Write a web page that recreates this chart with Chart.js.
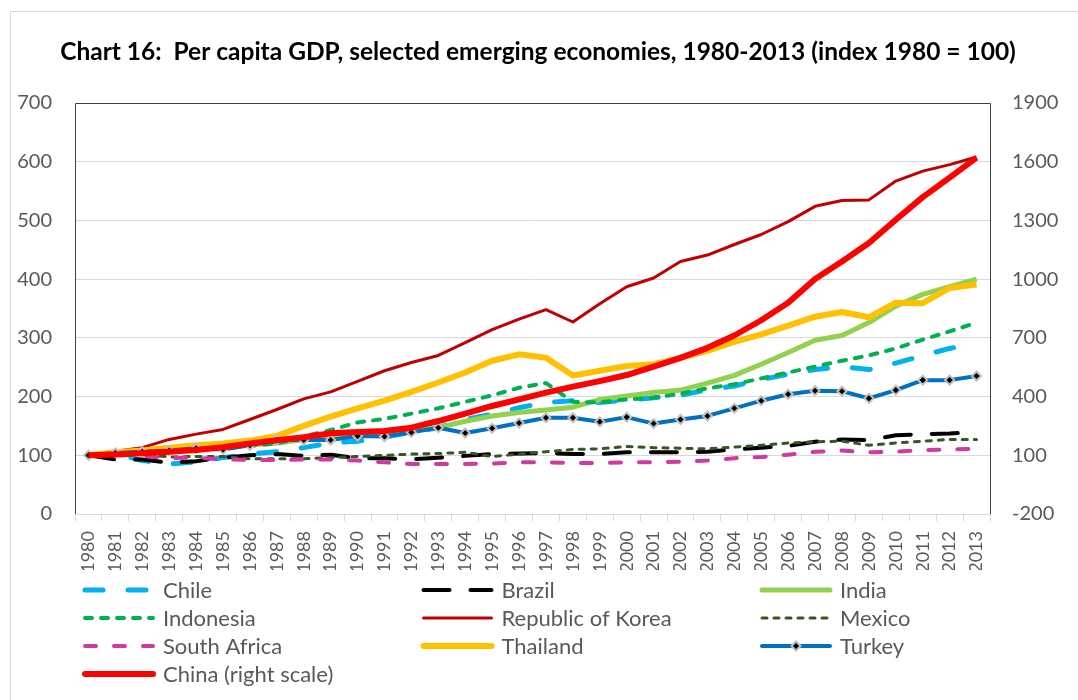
<!DOCTYPE html>
<html>
<head>
<meta charset="utf-8">
<title>Chart 16: Per capita GDP</title>
<script src="https://cdn.jsdelivr.net/npm/chart.js@4.4.1/dist/chart.umd.min.js"></script>
<style>
  html, body { margin: 0; padding: 0; background: #fff; }
  #wrap { width: 1078px; height: 700px; }
</style>
</head>
<body>
<div id="wrap"><canvas id="gdpChart" width="1078" height="700"></canvas></div>
<script>
// data (index 1980 = 100)
const years = ['1980', '1981', '1982', '1983', '1984', '1985', '1986', '1987', '1988', '1989',
  '1990', '1991', '1992', '1993', '1994', '1995', '1996', '1997', '1998', '1999',
  '2000', '2001', '2002', '2003', '2004', '2005', '2006', '2007', '2008', '2009',
  '2010', '2011', '2012', '2013'];

const chile = [100, 103, 91, 85, 89, 96, 102, 106, 113, 121, 124, 131, 139, 147, 161, 170, 181, 190, 193, 190,
  194, 198, 202, 212, 218, 229, 238, 246, 251, 246, 257, 270, 282, 291];
const brazil = [100, 93, 93, 87, 90, 96, 100, 102, 99, 101, 95, 95, 93, 96, 99, 102, 103, 104, 102, 102,
  105, 105, 105, 106, 110, 113, 116, 123, 127, 126, 134, 136, 137, 140];
const india = [100, 104, 106, 109, 111, 114, 118, 121, 127, 133, 138, 137, 142, 147, 158, 167, 173, 177, 182, 195,
  201, 207, 211, 223, 236, 255, 275, 296, 304, 326, 354, 374, 387, 400];
const indonesia = [100, 106, 106, 108, 112, 112, 116, 120, 132, 143, 156, 162, 171, 180, 191, 202, 215, 223, 191, 190,
  195, 198, 205, 214, 221, 231, 241, 251, 261, 270, 282, 297, 311, 326];
const korea = [100, 107, 113, 127, 136, 144, 161, 178, 196, 208, 226, 244, 258, 270, 292, 314, 332, 348, 327, 358,
  387, 402, 430, 441, 459, 476, 498, 524, 534, 535, 567, 584, 595, 608];
const mexico = [100, 105, 102, 97, 98, 98, 94, 94, 94, 96, 98, 100, 102, 103, 105, 98, 102, 106, 110, 111,
  115, 113, 112, 111, 114, 117, 121, 123, 124, 117, 121, 124, 127, 127];
const southAfrica = [100, 103, 99, 95, 96, 93, 92, 92, 93, 93, 91, 88, 85, 85, 85, 86, 88, 88, 87, 87,
  88, 88, 89, 91, 95, 97, 101, 106, 108, 105, 106, 109, 110, 111];
const thailand = [100, 105, 108, 113, 117, 120, 125, 133, 150, 166, 180, 193, 208, 224, 241, 261, 272, 266, 236, 244,
  252, 255, 266, 278, 293, 306, 321, 336, 344, 335, 360, 359, 385, 391];
const turkey = [100, 104, 106, 108, 112, 110, 117, 126, 126, 126, 133, 132, 139, 147, 138, 146, 155, 164, 164, 157,
  165, 154, 161, 167, 180, 193, 204, 210, 209, 197, 211, 228, 228, 235];
// China is plotted against the right-hand scale
const china = [100, 104, 111, 118, 127, 141, 160, 177, 192, 213, 219, 224, 241, 275, 313, 352, 386, 420, 451, 479,
  510, 553, 598, 649, 712, 790, 879, 1001, 1090, 1185, 1303, 1419, 1519, 1621];

const leftTicks = [0, 100, 200, 300, 400, 500, 600, 700];
const rightTicks = [-200, 100, 400, 700, 1000, 1300, 1600, 1900];

const FONT = 'Lato';
const GREY = '#595959';

function series(label, data, color, width, dash, extra) {
  return Object.assign({
    label: label,
    data: data,
    borderColor: color,
    backgroundColor: color,
    borderWidth: width,
    borderDash: dash,
    borderCapStyle: dash.length ? 'round' : 'butt',
    borderJoinStyle: 'round',
    pointRadius: 0,
    pointHoverRadius: 0,
    tension: 0,
    fill: false,
    yAxisID: 'y'
  }, extra || {});
}

const datasets = [
  series('Chile', chile, '#00b0f0', 5, [18, 25]),
  series('Brazil', brazil, '#000000', 4, [26, 21]),
  series('India', india, '#92d050', 5, []),
  series('Indonesia', indonesia, '#00b050', 4, [7, 9]),
  series('Republic of Korea', korea, '#c00000', 3, []),
  series('Mexico', mexico, '#375623', 3, [5, 7]),
  series('South Africa', southAfrica, '#d0399e', 4, [11, 18]),
  series('Thailand', thailand, '#ffc000', 6, []),
  series('Turkey', turkey, '#0070c0', 4, [], {
    pointStyle: 'rectRot',
    pointRadius: 4.5,
    pointBackgroundColor: '#000000',
    pointBorderColor: '#bfbfbf',
    pointBorderWidth: 2
  }),
  series('China (right scale)', china, '#ff0000', 6, [], { yAxisID: 'y1' })
];
// later series sit on top, like the original
datasets.forEach((d, i) => { d.order = datasets.length - i; });

// white page, outer frame and the dark plot border (no bottom edge)
const framePlugin = {
  id: 'frames',
  beforeDraw(chart) {
    const ctx = chart.ctx;
    ctx.save();
    ctx.fillStyle = '#ffffff';
    ctx.fillRect(0, 0, chart.width, chart.height);
    ctx.strokeStyle = '#d9d9d9';
    ctx.lineWidth = 1;
    ctx.strokeRect(10.5, 11.5, chart.width + 20, chart.height + 20);
    ctx.restore();
  },
  beforeDatasetsDraw(chart) {
    const a = chart.chartArea;
    const ctx = chart.ctx;
    ctx.save();
    ctx.strokeStyle = '#404040';
    ctx.lineWidth = 1;
    ctx.beginPath();
    ctx.moveTo(Math.round(a.left) + 0.5, Math.round(a.bottom));
    ctx.lineTo(Math.round(a.left) + 0.5, Math.round(a.top) + 0.5);
    ctx.lineTo(Math.round(a.right) + 0.5, Math.round(a.top) + 0.5);
    ctx.lineTo(Math.round(a.right) + 0.5, Math.round(a.bottom));
    ctx.stroke();
    ctx.restore();
  }
};

// three-column legend under the axis, as in the original
const legendPlugin = {
  id: 'gridLegend',
  afterDraw(chart) {
    const ctx = chart.ctx;
    chart.data.datasets.forEach((ds, i) => {
      const col = i % 3;
      const row = Math.floor(i / 3);
      const x = 85 + col * 338.5;
      const y = 590 + row * 28;
      ctx.save();
      ctx.strokeStyle = ds.borderColor;
      ctx.lineWidth = ds.borderWidth;
      ctx.lineCap = 'round';
      ctx.setLineDash(ds.borderDash);
      ctx.beginPath();
      ctx.moveTo(x, y);
      ctx.lineTo(x + 68, y);
      ctx.stroke();
      ctx.setLineDash([]);
      if (ds.pointRadius > 0) {
        ctx.fillStyle = ds.pointBackgroundColor;
        ctx.strokeStyle = ds.pointBorderColor;
        ctx.lineWidth = ds.pointBorderWidth;
        Chart.helpers.drawPoint(ctx, { pointStyle: ds.pointStyle, radius: ds.pointRadius, rotation: 0, borderWidth: ds.pointBorderWidth }, x + 34, y);
      }
      ctx.fillStyle = GREY;
      ctx.font = '22px ' + FONT;
      ctx.textBaseline = 'middle';
      ctx.textAlign = 'left';
      ctx.fillText(ds.label, x + 78, y + 1);
      ctx.restore();
    });
  }
};

new Chart(document.getElementById('gdpChart'), {
  type: 'line',
  data: { labels: years, datasets: datasets },
  plugins: [framePlugin, legendPlugin],
  options: {
    responsive: false,
    animation: false,
    layout: { padding: { left: 17, right: 19, top: 0, bottom: 130 } },
    plugins: {
      legend: { display: false },
      tooltip: { enabled: false },
      title: {
        display: true,
        text: 'Chart 16:  Per capita GDP, selected emerging economies, 1980-2013 (index 1980 = 100)',
        color: '#000000',
        font: { family: FONT, size: 24.5, weight: 'bold', lineHeight: 1.2 },
        padding: { top: 37.3, bottom: 36.3 }
      }
    },
    scales: {
      x: {
        offset: true,
        afterFit: (axis) => { axis.height = 56; axis.paddingLeft = 0; axis.paddingRight = 0; },
        grid: { offset: true, drawOnChartArea: false, drawTicks: true, tickLength: 7, color: '#d9d9d9' },
        border: { display: true, color: '#d9d9d9', width: 1 },
        ticks: {
          autoSkip: false,
          minRotation: 90,
          maxRotation: 90,
          padding: 10,
          color: GREY,
          font: { family: FONT, size: 18 }
        }
      },
      y: {
        position: 'left',
        min: leftTicks[0],
        max: leftTicks[leftTicks.length - 1],
        afterBuildTicks: (axis) => { axis.ticks = leftTicks.map(v => ({ value: v })); },
        afterFit: (axis) => { axis.width = 58; },
        grid: { color: '#d9d9d9', lineWidth: 1, drawTicks: false },
        border: { display: false },
        ticks: { padding: 23, color: GREY, font: { family: FONT, size: 20 }, callback: (v) => String(v) }
      },
      y1: {
        position: 'right',
        min: rightTicks[0],
        max: rightTicks[rightTicks.length - 1],
        afterBuildTicks: (axis) => { axis.ticks = rightTicks.map(v => ({ value: v })); },
        afterFit: (axis) => { axis.width = 69; },
        grid: { drawOnChartArea: false, drawTicks: false },
        border: { display: false },
        ticks: { padding: 22, color: GREY, font: { family: FONT, size: 20 }, callback: (v) => String(v) }
      }
    }
  }
});
</script>
</body>
</html>
